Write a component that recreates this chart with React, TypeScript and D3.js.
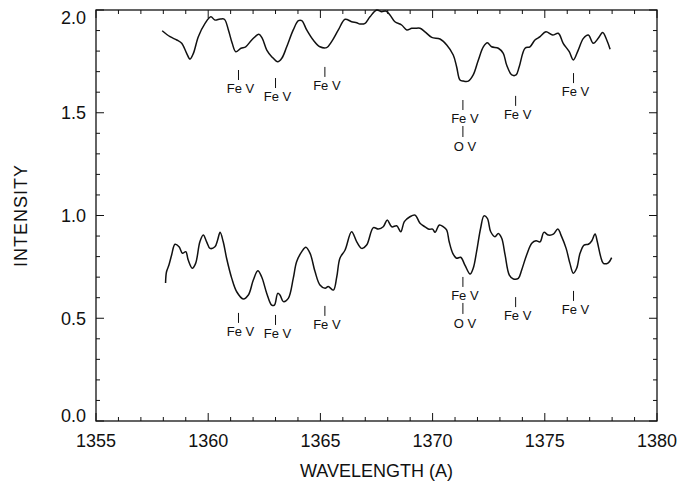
import React from 'react';
import { scaleLinear, line, curveCatmullRom, range } from 'd3';

// upper spectrum
const topWave = [
  1357.95, 1358.3, 1358.6, 1358.82, 1359.04, 1359.19, 1359.34, 1359.56, 1359.86, 1360.12,
  1360.3, 1360.53, 1360.72, 1360.9, 1361.07, 1361.23, 1361.46, 1361.67, 1361.94, 1362.26,
  1362.41, 1362.61, 1362.83, 1363.1, 1363.28, 1363.5, 1363.79, 1364.02, 1364.17, 1364.39,
  1364.68, 1364.98, 1365.28, 1365.5, 1365.8, 1366.1, 1366.39, 1366.62, 1366.76, 1366.99,
  1367.21, 1367.51, 1367.73, 1367.91, 1368.1, 1368.32, 1368.62, 1368.85, 1369.07, 1369.22,
  1369.44, 1369.66, 1369.96, 1370.33, 1370.63, 1370.92, 1371.07, 1371.22, 1371.37, 1371.59,
  1371.81, 1372.04, 1372.26, 1372.44, 1372.63, 1372.93, 1373.15, 1373.3, 1373.53, 1373.72,
  1373.86, 1374.12, 1374.34, 1374.56, 1374.79, 1375.05, 1375.35, 1375.6, 1375.82, 1376.09,
  1376.27, 1376.49, 1376.72, 1376.94, 1377.16, 1377.38, 1377.58, 1377.76, 1377.91
];
const topFlux = [
  1.899, 1.87, 1.854, 1.838, 1.789, 1.761, 1.789, 1.87, 1.935, 1.967,
  1.951, 1.956, 1.955, 1.903, 1.838, 1.797, 1.814, 1.821, 1.854, 1.882,
  1.862, 1.805, 1.773, 1.748, 1.765, 1.821, 1.903, 1.948, 1.948, 1.903,
  1.854, 1.821, 1.817, 1.846, 1.903, 1.955, 1.943, 1.938, 1.932, 1.935,
  1.967, 2.0, 1.992, 1.995, 1.976, 1.943, 1.927, 1.903, 1.911, 1.911,
  1.911, 1.894, 1.867, 1.859, 1.83, 1.781, 1.724, 1.659, 1.654, 1.654,
  1.684, 1.757, 1.821, 1.841, 1.821, 1.814, 1.789, 1.732, 1.684, 1.684,
  1.724, 1.814, 1.821, 1.854, 1.87, 1.894, 1.878, 1.887, 1.838, 1.797,
  1.757, 1.805, 1.862, 1.878, 1.838, 1.862, 1.89, 1.854, 1.809
];

// lower spectrum
const botWave = [
  1358.1, 1358.14, 1358.25, 1358.37, 1358.52, 1358.7, 1358.85, 1359.0, 1359.11, 1359.29,
  1359.44, 1359.63, 1359.78, 1359.93, 1360.08, 1360.3, 1360.42, 1360.53, 1360.67, 1360.82,
  1361.05, 1361.27, 1361.56, 1361.79, 1362.01, 1362.21, 1362.38, 1362.61, 1362.83, 1362.95,
  1363.1, 1363.2, 1363.35, 1363.57, 1363.79, 1363.94, 1364.17, 1364.35, 1364.54, 1364.76,
  1364.98, 1365.21, 1365.35, 1365.58, 1365.73, 1365.87, 1366.1, 1366.39, 1366.62, 1366.84,
  1367.06, 1367.36, 1367.58, 1367.8, 1367.98, 1368.18, 1368.4, 1368.58, 1368.74, 1368.99,
  1369.22, 1369.44, 1369.66, 1369.84, 1370.0, 1370.11, 1370.3, 1370.48, 1370.63, 1370.74,
  1370.9, 1371.07, 1371.25, 1371.44, 1371.67, 1371.81, 1371.96, 1372.14, 1372.29, 1372.44,
  1372.59, 1372.78, 1372.93, 1373.08, 1373.23, 1373.42, 1373.6, 1373.82, 1373.97, 1374.19,
  1374.42, 1374.61, 1374.79, 1374.96, 1375.16, 1375.38, 1375.58, 1375.75, 1375.95, 1376.12,
  1376.27, 1376.42, 1376.57, 1376.75, 1376.94, 1377.09, 1377.24, 1377.34, 1377.49, 1377.61,
  1377.83, 1377.98
];
const botFlux = [
  0.672, 0.725, 0.759, 0.808, 0.86, 0.848, 0.816, 0.824, 0.783, 0.743,
  0.767, 0.872, 0.905, 0.872, 0.84, 0.848, 0.881, 0.918, 0.872, 0.792,
  0.694, 0.629, 0.594, 0.613, 0.686, 0.731, 0.702, 0.621, 0.564, 0.564,
  0.621, 0.613, 0.581, 0.597, 0.694, 0.775, 0.824, 0.845, 0.816, 0.727,
  0.662, 0.646, 0.654, 0.637, 0.702, 0.792, 0.832, 0.921, 0.872, 0.84,
  0.856, 0.941, 0.934, 0.945, 0.978, 0.945, 0.95, 0.921, 0.97, 0.994,
  1.002, 0.962, 0.945, 0.933, 0.934, 0.918, 0.954, 0.945, 0.929, 0.872,
  0.816, 0.792, 0.797, 0.759, 0.715, 0.743, 0.824, 0.938, 0.998, 0.986,
  0.921, 0.897, 0.913, 0.889, 0.808, 0.71, 0.691, 0.694, 0.735, 0.808,
  0.865, 0.877, 0.872, 0.918, 0.905, 0.909, 0.934, 0.897, 0.84, 0.767,
  0.719, 0.743, 0.816, 0.856, 0.86, 0.876, 0.91, 0.872, 0.8, 0.767,
  0.77, 0.795
];

// line identifications
const lineWave = [1361.35, 1363.0, 1365.2, 1371.35, 1373.7, 1376.28];
const lineIon = ['Fe V', 'Fe V', 'Fe V', 'Fe V', 'Fe V', 'Fe V'];
const lineBlend = ['', '', '', 'O V', '', ''];
const topMarkLevel = [1.708, 1.669, 1.723, 1.562, 1.582, 1.693];
const botMarkLevel = [0.526, 0.516, 0.56, 0.701, 0.603, 0.633];

const xTickLabels = [1355, 1360, 1365, 1370, 1375, 1380];
const yTickLabels = [0.0, 0.5, 1.0, 1.5, 2.0];

const App = () => {
  const left = 96, right = 657, top = 10, bottom = 421;
  const x = scaleLinear().domain([1355, 1380]).range([left, right]);
  const y = scaleLinear().domain([0, 2]).range([bottom, top]);
  const font = '"Liberation Sans", Arial, Helvetica, sans-serif';

  const path = (w: number[], f: number[]) =>
    line<number>()
      .x(i => x(w[i]))
      .y(i => y(f[i]))
      .curve(curveCatmullRom)(range(w.length));

  const xMinor = x.ticks(25);
  const yMinor = y.ticks(20);

  const marks = (levels: number[]) =>
    lineWave.map((w, i) => {
      const px = x(w);
      const py = y(levels[i]);
      return (
        <g key={i}>
          <line x1={px} x2={px} y1={py} y2={py + 10} stroke="#111" strokeWidth={1} />
          <text x={px + 2} y={py + 23} textAnchor="middle" fontSize={13} fontFamily={font} fill="#111">
            {lineIon[i]}
          </text>
          {lineBlend[i] && (
            <>
              <line x1={px} x2={px} y1={py + 26} y2={py + 37} stroke="#111" strokeWidth={1} />
              <text x={px + 2} y={py + 51} textAnchor="middle" fontSize={13} fontFamily={font} fill="#111">
                {lineBlend[i]}
              </text>
            </>
          )}
        </g>
      );
    });

  return (
    <svg width={683} height={484} style={{ position: 'absolute', left: 0, top: 0, background: '#fff' }}>
      {/* frame */}
      <rect x={left} y={top} width={right - left} height={bottom - top} fill="none" stroke="#111" strokeWidth={1.3} />

      {/* x ticks bottom & top, pointing inward */}
      {xMinor.map(t => {
        const len = t % 5 === 0 ? 8 : 4;
        return (
          <g key={'x' + t}>
            <line x1={x(t)} x2={x(t)} y1={bottom} y2={bottom - len} stroke="#111" />
            <line x1={x(t)} x2={x(t)} y1={top} y2={top + len} stroke="#111" />
          </g>
        );
      })}
      {/* y ticks left & right */}
      {yMinor.map(t => {
        const major = Math.abs(t * 2 - Math.round(t * 2)) < 1e-6;
        const len = major ? 8 : 4;
        return (
          <g key={'y' + t}>
            <line x1={left} x2={left + len} y1={y(t)} y2={y(t)} stroke="#111" />
            <line x1={right} x2={right - len} y1={y(t)} y2={y(t)} stroke="#111" />
          </g>
        );
      })}

      {xTickLabels.map(t => (
        <text key={'xl' + t} x={x(t)} y={447} textAnchor="middle" fontSize={18} fontFamily={font} fill="#111">
          {t}
        </text>
      ))}
      {yTickLabels.map(t => (
        <text
          key={'yl' + t}
          x={86}
          y={Math.min(Math.max(y(t), 18), 416)}
          dy="0.36em"
          textAnchor="end"
          fontSize={18}
          fontFamily={font}
          fill="#111"
        >
          {t.toFixed(1)}
        </text>
      ))}

      <text x={(left + right) / 2} y={477} textAnchor="middle" fontSize={18} fontFamily={font} fill="#111">
        WAVELENGTH (A)
      </text>
      <text
        transform={`translate(27, ${(top + bottom) / 2}) rotate(-90)`}
        textAnchor="middle"
        fontSize={18}
        letterSpacing={1}
        fontFamily={font}
        fill="#111"
      >
        INTENSITY
      </text>

      <path d={path(topWave, topFlux) || ''} fill="none" stroke="#111" strokeWidth={1.5} />
      <path d={path(botWave, botFlux) || ''} fill="none" stroke="#111" strokeWidth={1.5} />

      {marks(topMarkLevel)}
      {marks(botMarkLevel)}
    </svg>
  );
};

export default App;
